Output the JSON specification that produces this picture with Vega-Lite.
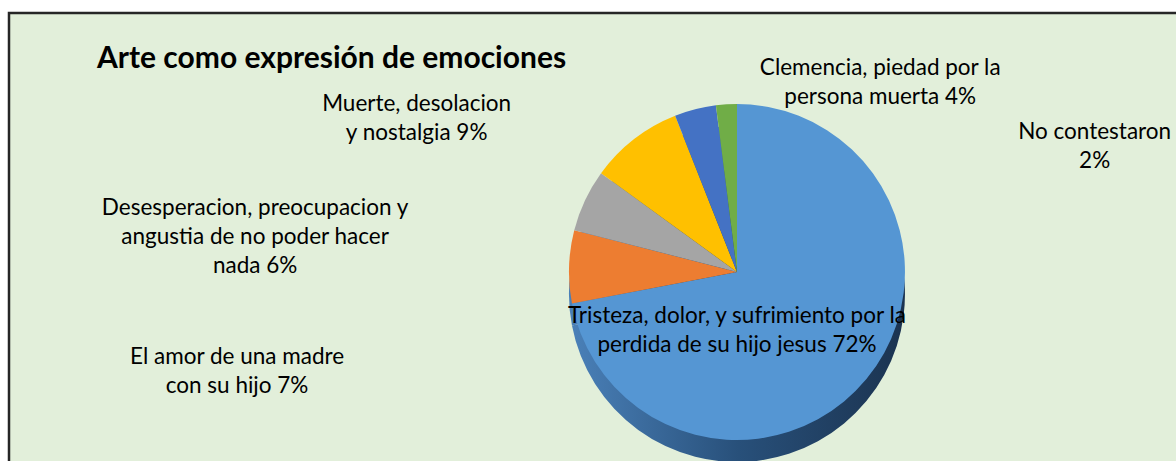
{
  "$schema": "https://vega.github.io/schema/vega-lite/v6.json",
  "width": 1176,
  "height": 461,
  "autosize": {"type": "fit", "contains": "padding"},
  "padding": {"left": 9, "top": 13, "right": -3, "bottom": -3},
  "background": "#FFFFFF",
  "view": {"fill": "#E2EFDA", "stroke": "#262626", "strokeWidth": 2.5},
  "config": {
    "view": {"fill": "#E2EFDA", "stroke": "#262626", "strokeWidth": 2.5},
    "text": {"font": "Lato", "fontSize": 22.5, "lineHeight": 29, "lineBreak": "\n", "align": "center", "baseline": "middle", "color": "#000000"}
  },
  "title": {
    "text": "Arte como expresión de emociones",
    "anchor": "start",
    "frame": "group",
    "font": "Lato",
    "fontSize": 30,
    "fontWeight": "bold",
    "color": "#000000",
    "baseline": "alphabetic",
    "offset": -85,
    "dx": 88
  },
  "data": {
    "values": [
      {"categoria": "Tristeza, dolor, y sufrimiento por la perdida de su hijo jesus", "etiqueta": "Tristeza, dolor, y sufrimiento por la\nperdida de su hijo jesus 72%", "valor": 72, "orden": 1},
      {"categoria": "El amor de una madre con su hijo", "etiqueta": "El amor de una madre\ncon su hijo 7%", "valor": 7, "orden": 2},
      {"categoria": "Desesperacion, preocupacion y angustia de no poder hacer nada", "etiqueta": "Desesperacion, preocupacion y\nangustia de no poder hacer\nnada 6%", "valor": 6, "orden": 3},
      {"categoria": "Muerte, desolacion y nostalgia", "etiqueta": "Muerte, desolacion\ny nostalgia 9%", "valor": 9, "orden": 4},
      {"categoria": "Clemencia, piedad por la persona muerta", "etiqueta": "Clemencia, piedad por la\npersona muerta 4%", "valor": 4, "orden": 5},
      {"categoria": "No contestaron", "etiqueta": "No contestaron\n2%", "valor": 2, "orden": 6}
    ]
  },
  "transform": [
    {"stack": "valor", "groupby": [], "sort": [{"field": "orden", "order": "ascending"}], "as": ["t0", "t1"]},
    {"calculate": "(datum.t0 + datum.t1) / 2", "as": "mid"}
  ],
  "layer": [
    {
      "mark": {
        "type": "arc",
        "outerRadius": 168,
        "x": {"expr": "width * 0.6222"},
        "y": {"expr": "height * 0.5743 + 22"},
        "stroke": null,
        "color": {"gradient": "linear", "x1": 0, "y1": 0, "x2": 1, "y2": 0,
          "stops": [{"offset": 0, "color": "#4A80B8"}, {"offset": 0.5, "color": "#28507A"}, {"offset": 1, "color": "#1B3350"}]}
      },
      "encoding": {
        "theta": {"field": "t0", "type": "quantitative", "scale": {"domain": [0, 100]}},
        "theta2": {"field": "t1"}
      }
    },
    {
      "mark": {
        "type": "arc",
        "outerRadius": 168,
        "x": {"expr": "width * 0.6222"},
        "y": {"expr": "height * 0.5743"},
        "stroke": null
      },
      "encoding": {
        "theta": {"field": "t0", "type": "quantitative", "scale": {"domain": [0, 100]}},
        "theta2": {"field": "t1"},
        "color": {
          "field": "categoria",
          "type": "nominal",
          "legend": null,
          "scale": {
            "domain": [
              "Tristeza, dolor, y sufrimiento por la perdida de su hijo jesus",
              "El amor de una madre con su hijo",
              "Desesperacion, preocupacion y angustia de no poder hacer nada",
              "Muerte, desolacion y nostalgia",
              "Clemencia, piedad por la persona muerta",
              "No contestaron"
            ],
            "range": ["#5596D3", "#ED7D31", "#A5A5A5", "#FFC000", "#4472C4", "#70AD47"]
          }
        }
      }
    },
    {
      "transform": [{"filter": "datum.orden == 1"}],
      "mark": {"type": "text", "radius": 0, "x": {"expr": "width * 0.6222"}, "y": {"expr": "height * 0.5743"}, "dy": 44},
      "encoding": {
        "theta": {"field": "mid", "type": "quantitative", "scale": {"domain": [0, 100]}, "stack": null},
        "text": {"field": "etiqueta"}
      }
    },
    {
      "transform": [{"filter": "datum.orden == 2"}],
      "mark": {"type": "text", "radius": 180, "x": {"expr": "width * 0.6222"}, "y": {"expr": "height * 0.5743"}, "dx": -320, "dy": 91},
      "encoding": {
        "theta": {"field": "mid", "type": "quantitative", "scale": {"domain": [0, 100]}, "stack": null},
        "text": {"field": "etiqueta"}
      }
    },
    {
      "transform": [{"filter": "datum.orden == 3"}],
      "mark": {"type": "text", "radius": 180, "x": {"expr": "width * 0.6222"}, "y": {"expr": "height * 0.5743"}, "dx": -319, "dy": 13},
      "encoding": {
        "theta": {"field": "mid", "type": "quantitative", "scale": {"domain": [0, 100]}, "stack": null},
        "text": {"field": "etiqueta"}
      }
    },
    {
      "transform": [{"filter": "datum.orden == 4"}],
      "mark": {"type": "text", "radius": 180, "x": {"expr": "width * 0.6222"}, "y": {"expr": "height * 0.5743"}, "dx": -210, "dy": -26},
      "encoding": {
        "theta": {"field": "mid", "type": "quantitative", "scale": {"domain": [0, 100]}, "stack": null},
        "text": {"field": "etiqueta"}
      }
    },
    {
      "transform": [{"filter": "datum.orden == 5"}],
      "mark": {"type": "text", "radius": 180, "x": {"expr": "width * 0.6222"}, "y": {"expr": "height * 0.5743"}, "dx": 188, "dy": -30},
      "encoding": {
        "theta": {"field": "mid", "type": "quantitative", "scale": {"domain": [0, 100]}, "stack": null},
        "text": {"field": "etiqueta"}
      }
    },
    {
      "transform": [{"filter": "datum.orden == 6"}],
      "mark": {"type": "text", "radius": 180, "x": {"expr": "width * 0.6222"}, "y": {"expr": "height * 0.5743"}, "dx": 369, "dy": 40},
      "encoding": {
        "theta": {"field": "mid", "type": "quantitative", "scale": {"domain": [0, 100]}, "stack": null},
        "text": {"field": "etiqueta"}
      }
    }
  ]
}
